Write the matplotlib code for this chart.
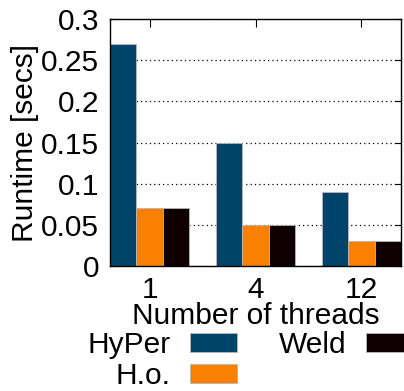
import numpy as np
import matplotlib
matplotlib.use("Agg")
import matplotlib.pyplot as plt

# values
threads = ["1", "4", "12"]
hyper = [0.27, 0.15, 0.09]
hand_opt = [0.07, 0.05, 0.03]
weld = [0.07, 0.05, 0.03]
yticks = [0, 0.05, 0.1, 0.15, 0.2, 0.25, 0.3]
ytick_labels = ["0", "0.05", "0.1", "0.15", "0.2", "0.25", "0.3"]

series = [("HyPer", hyper, "#01446a"),
          ("H.o.", hand_opt, "#f98000"),
          ("Weld", weld, "#100004")]

plt.rcParams['font.family'] = ['Liberation Sans', 'DejaVu Sans']
plt.rcParams['font.size'] = 21.5

fig = plt.figure(figsize=(4.04, 3.91), dpi=100)
ax = fig.add_axes([110 / 404, 1 - 266 / 391, 291 / 404, 247 / 391])

x = np.arange(len(threads))
w = 0.25
for i, (name, vals, col) in enumerate(series):
    ax.bar(x + (i - 1) * w, vals, w, color=col, edgecolor="#b8b8b8",
           linewidth=0.6, label=name, zorder=2)

ax.set_xlim(-0.375, 2.375)
ax.set_ylim(0, 0.3)
ax.set_xticks(x)
ax.set_xticklabels(threads)
ax.set_yticks(yticks)
ax.set_yticklabels(ytick_labels)
ax.yaxis.grid(True, linestyle=(0, (1, 2.5)), color="black", linewidth=0.9, zorder=0)
ax.set_axisbelow(True)
ax.tick_params(axis="x", direction="in", top=True, length=6, pad=7)
ax.tick_params(axis="y", direction="in", right=True, length=4, pad=8)
for s in ax.spines.values():
    s.set_linewidth(1.0)

ax.set_xlabel("Number of threads", labelpad=-1)
ax.set_ylabel("Runtime [secs]", labelpad=1)

fig.legend(loc="upper left", bbox_to_anchor=(87 / 404, 1 - 331 / 391), ncol=2,
           frameon=False, markerfirst=False, borderpad=0, handlelength=1.6,
           handleheight=0.62, handletextpad=0.65, columnspacing=1.4,
           labelspacing=0.1, borderaxespad=0)

fig.savefig("out.png", dpi=100)
